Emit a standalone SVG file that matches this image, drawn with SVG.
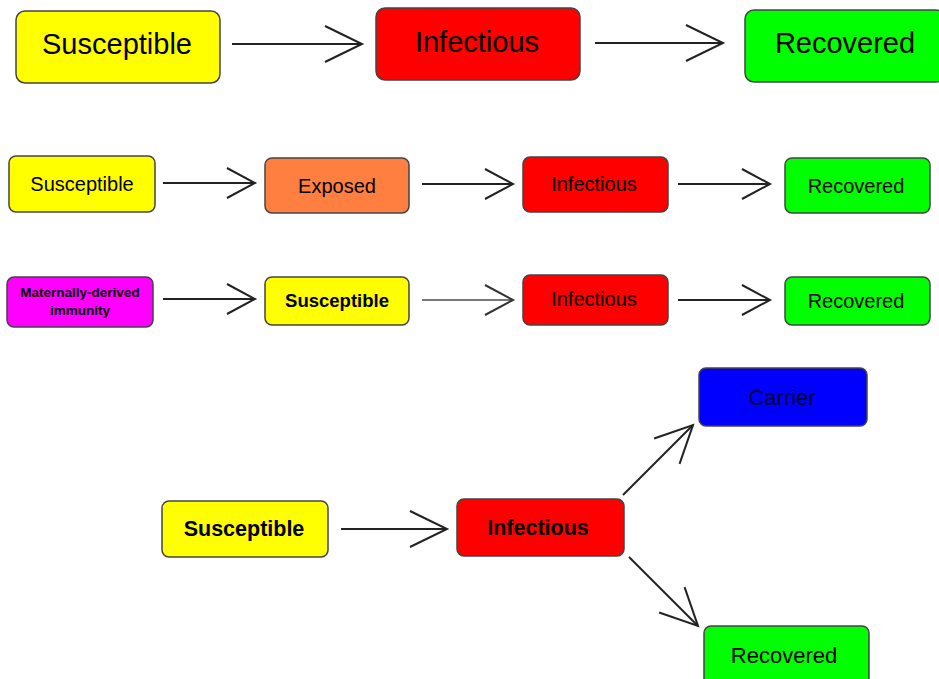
<svg xmlns="http://www.w3.org/2000/svg" width="939" height="679" viewBox="0 0 939 679">
<style>
.box{stroke:#444;stroke-width:1.5}
.t{font-family:"Liberation Sans",Arial,sans-serif;fill:#000;text-anchor:middle}
.b{font-weight:bold}
.edge{fill:none;stroke:#222;stroke-width:2}
.gray{stroke:#777}
.s{fill:#ffff00}.r{fill:#ff0000}.g{fill:#00ff00}.o{fill:#ff7f40}.m{fill:#ff00ff}.bl{fill:#0000ff}
</style>
<defs>
<marker id="big" markerUnits="userSpaceOnUse" orient="auto" markerWidth="60" markerHeight="60" refX="0" refY="0" overflow="visible">
<path d="M-37,-18 L0,0 L-37,18" fill="none" stroke="#222" stroke-width="2"/>
</marker>
<marker id="small" markerUnits="userSpaceOnUse" orient="auto" markerWidth="40" markerHeight="40" refX="0" refY="0" overflow="visible">
<path d="M-28,-15 L0,0 L-28,15" fill="none" stroke="#222" stroke-width="2"/>
</marker>
<marker id="smallg" markerUnits="userSpaceOnUse" orient="auto" markerWidth="40" markerHeight="40" refX="0" refY="0" overflow="visible">
<path d="M-28,-15 L0,0 L-28,15" fill="none" stroke="#333" stroke-width="2"/>
</marker>
</defs>
<rect width="939" height="679" fill="#ffffff"/>
<g id="connectors">
<path class="edge" d="M232,44 L362,44" marker-end="url(#big)"/>
<path class="edge" d="M595,43 L723,43" marker-end="url(#big)"/>
<path class="edge" d="M163,183 L255,183" marker-end="url(#small)"/>
<path class="edge" d="M422,184 L513,184" marker-end="url(#small)"/>
<path class="edge" d="M678,184 L770,184" marker-end="url(#small)"/>
<path class="edge" d="M163,299 L255,299" marker-end="url(#small)"/>
<path class="edge gray" d="M422,300 L513,300" marker-end="url(#smallg)"/>
<path class="edge" d="M678,300 L770,300" marker-end="url(#small)"/>
<path class="edge" d="M341,529 L447,529" marker-end="url(#big)"/>
<path class="edge" d="M623,495 L693,425" marker-end="url(#big)"/>
<path class="edge" d="M629,557 L698,626" marker-end="url(#big)"/>
</g>
<g id="r1-susceptible"><rect class="box s" x="16" y="11" width="204" height="72" rx="9"/><text class="t" x="117" y="54" font-size="29">Susceptible</text></g>
<g id="r1-infectious"><rect class="box r" x="376" y="8" width="204" height="72" rx="9"/><text class="t" x="477" y="52" font-size="29">Infectious</text></g>
<g id="r1-recovered"><rect class="box g" x="745" y="10" width="200" height="72" rx="9"/><text class="t" x="845" y="53" font-size="29">Recovered</text></g>

<g id="r2-susceptible"><rect class="box s" x="9" y="156" width="146" height="56" rx="7"/><text class="t" x="82" y="191" font-size="20">Susceptible</text></g>
<g id="r2-exposed"><rect class="box o" x="265" y="158" width="144" height="55" rx="7"/><text class="t" x="337" y="193" font-size="20">Exposed</text></g>
<g id="r2-infectious"><rect class="box r" x="523" y="157" width="145" height="55" rx="7"/><text class="t" x="594" y="191" font-size="20">Infectious</text></g>
<g id="r2-recovered"><rect class="box g" x="785" y="158" width="145" height="55" rx="7"/><text class="t" x="856" y="193" font-size="20">Recovered</text></g>

<g id="r3-maternal"><rect class="box m" x="7" y="277" width="146" height="50" rx="7"/><text class="t b" x="80" y="297" font-size="13.5">Maternally-derived</text><text class="t b" x="80" y="315" font-size="13.5">immunity</text></g>
<g id="r3-susceptible"><rect class="box s" x="265" y="277" width="144" height="48" rx="7"/><text class="t b" x="337" y="307" font-size="18.5">Susceptible</text></g>
<g id="r3-infectious"><rect class="box r" x="523" y="275" width="145" height="50" rx="7"/><text class="t" x="594" y="306" font-size="20">Infectious</text></g>
<g id="r3-recovered"><rect class="box g" x="785" y="277" width="145" height="48" rx="7"/><text class="t" x="856" y="308" font-size="20">Recovered</text></g>

<g id="r4-susceptible"><rect class="box s" x="162" y="501" width="166" height="56" rx="7"/><text class="t b" x="244" y="536" font-size="21.5">Susceptible</text></g>
<g id="r4-infectious"><rect class="box r" x="457" y="499" width="167" height="57" rx="7"/><text class="t b" x="538" y="535" font-size="21.5">Infectious</text></g>
<g id="r4-carrier"><rect class="box bl" x="699" y="368" width="168" height="58" rx="7"/><text class="t" x="782" y="405" font-size="22" style="fill:#000033">Carrier</text></g>
<g id="r4-recovered"><rect class="box g" x="704" y="626" width="165" height="60" rx="7"/><text class="t" x="784" y="663" font-size="22">Recovered</text></g>
</svg>
